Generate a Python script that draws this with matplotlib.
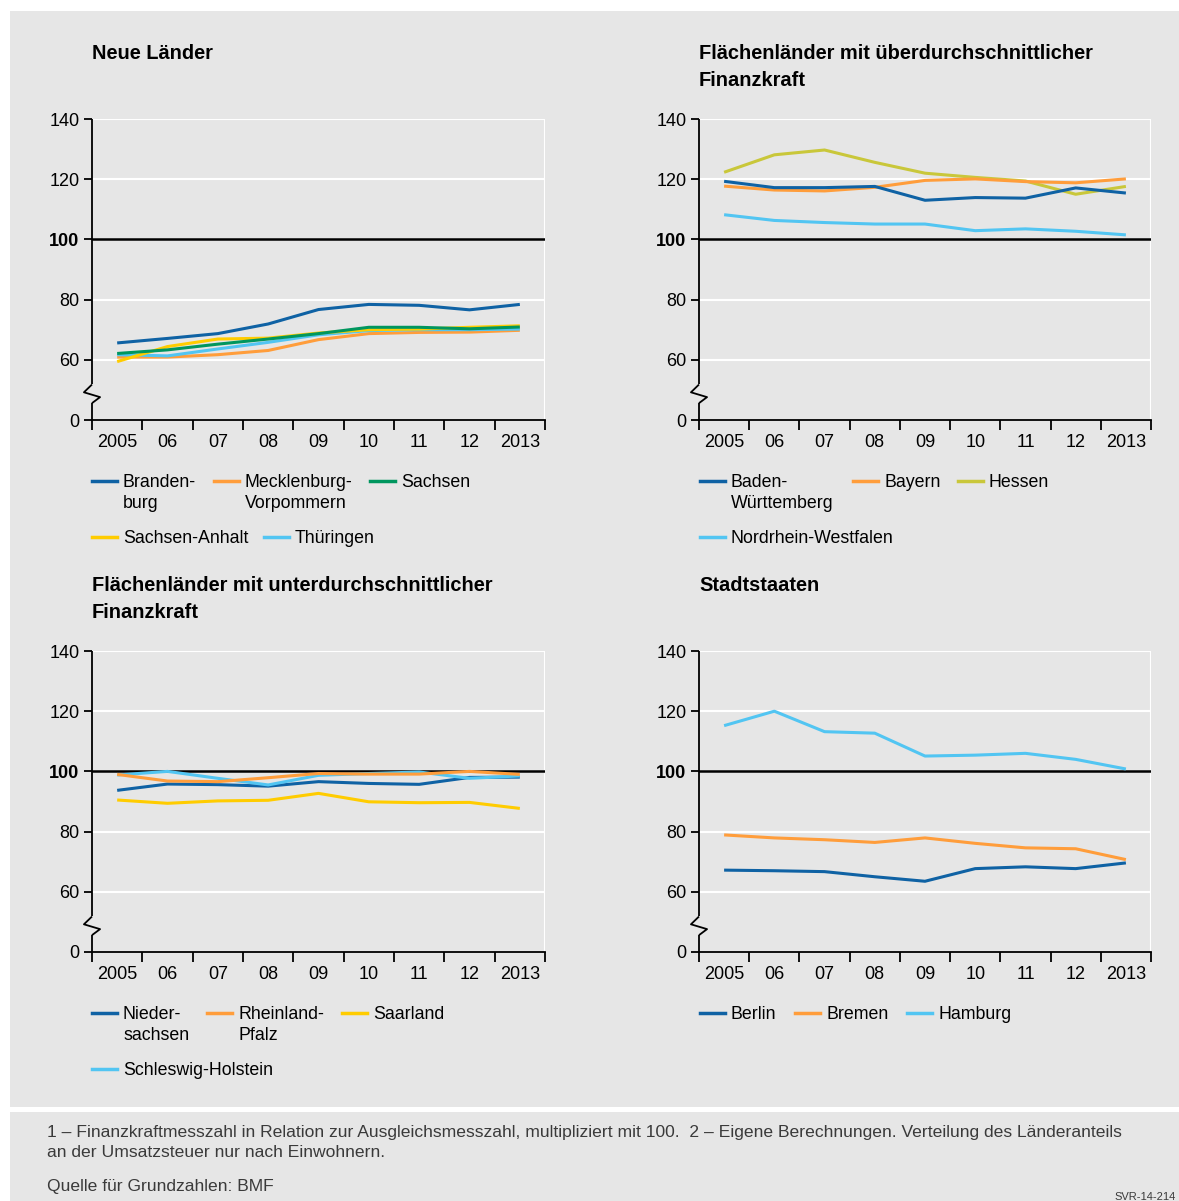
import numpy as np
import matplotlib
matplotlib.use("Agg")
import matplotlib.pyplot as plt
from matplotlib.lines import Line2D
from matplotlib.patches import Rectangle

plt.rcParams['font.family'] = ['Liberation Sans', 'DejaVu Sans']

W, H = 1179, 1201

years = ["2005", "06", "07", "08", "09", "10", "11", "12", "2013"]

# Neue Länder
brandenburg = [65.6, 67.1, 68.7, 71.9, 76.7, 78.4, 78.1, 76.6, 78.4]
meck_vorp = [60.9, 60.9, 61.7, 63.1, 66.7, 68.7, 69.1, 69.2, 69.8]
sachsen = [62.1, 63.3, 65.2, 66.9, 68.7, 70.8, 70.8, 70.3, 70.9]
sachsen_anhalt = [59.4, 64.4, 66.9, 67.2, 68.9, 70.0, 70.2, 70.8, 71.3]
thueringen = [61.7, 61.3, 63.6, 65.8, 68.3, 69.7, 70.0, 70.0, 70.2]

# Flächenländer, überdurchschnittlich
baden_wuertt = [119.3, 117.2, 117.2, 117.6, 113.0, 113.9, 113.7, 117.1, 115.4]
bayern = [117.7, 116.4, 116.1, 117.3, 119.6, 120.1, 119.2, 118.8, 120.1]
hessen = [122.3, 128.1, 129.7, 125.6, 122.0, 120.6, 119.4, 115.0, 117.6]
nrw = [108.2, 106.3, 105.6, 105.1, 105.1, 102.9, 103.5, 102.7, 101.5]

# Flächenländer, unterdurchschnittlich
niedersachsen = [93.7, 95.8, 95.6, 95.1, 96.6, 96.0, 95.7, 98.0, 98.1]
rheinland_pfalz = [99.0, 96.8, 96.6, 97.9, 99.3, 99.1, 99.1, 100.0, 99.0]
saarland = [90.5, 89.4, 90.2, 90.4, 92.7, 89.9, 89.6, 89.7, 87.7]
schleswig_holstein = [98.8, 100.0, 97.7, 95.5, 98.7, 99.3, 99.8, 97.7, 98.5]

# Stadtstaaten
berlin = [67.2, 67.0, 66.7, 65.0, 63.5, 67.7, 68.3, 67.7, 69.6]
bremen = [78.9, 77.9, 77.3, 76.4, 77.9, 76.1, 74.6, 74.3, 70.7]
hamburg = [115.2, 120.0, 113.2, 112.7, 105.1, 105.4, 106.0, 104.0, 100.8]

DBLUE = "#0f62a4"
ORANGE = "#ff9d3b"
GREEN = "#00965e"
YELLOW = "#ffcc00"
LBLUE = "#52c5f2"
OLIVE = "#c9c73a"
BG = "#e6e6e6"

# y axis is broken: "0" drawn at position 40
yticks = [40, 60, 80, 100, 120, 140]
ylabels = ["0", "60", "80", "100", "120", "140"]

fig = plt.figure(figsize=(W / 100, H / 100), dpi=100)
fig.patch.set_facecolor("white")
fig.add_artist(Rectangle((10 / W, 1 - 1107 / H), 1169 / W, 1096 / H,
                         transform=fig.transFigure, facecolor=BG, edgecolor="none", zorder=0))
fig.add_artist(Rectangle((10 / W, 0), 1169 / W, 1 - 1112 / H,
                         transform=fig.transFigure, facecolor=BG, edgecolor="none", zorder=0))


def fx(px):
    return px / W


def fy(py):
    return 1 - py / H


def panel(left, top, right, bottom, title, series, legend):
    ax = fig.add_axes([fx(left), fy(bottom), fx(right - left), (bottom - top) / H])
    ax.set_facecolor(BG)
    x = np.arange(len(years))
    for vals, color in series:
        ax.plot(x, vals, color=color, lw=2.2, solid_capstyle="butt", zorder=3)
    ax.set_xlim(-0.5, len(years) - 0.5)
    ax.set_ylim(40, 140)
    for g in [60, 80, 120, 140]:
        ax.axhline(g, color="white", lw=1.5, zorder=1)
    ax.axhline(100, color="black", lw=1.8, zorder=2)
    ax.axvline(len(years) - 0.5, color="white", lw=1.5, zorder=1)
    for s in ["top", "right", "left"]:
        ax.spines[s].set_visible(False)
    ax.spines["bottom"].set_linewidth(1.3)
    # broken y axis
    k = dict(color="black", lw=1.3, clip_on=False, zorder=4, solid_capstyle="butt")
    ax.plot([-0.5, -0.5], [51.8, 140], **k)
    ax.plot([-0.5, -0.5], [40, 45.6], **k)
    ax.plot([-0.5, -0.66, -0.34, -0.5], [51.8, 49.2, 47.6, 45.6], **k)
    ax.set_yticks(yticks)
    ax.set_yticklabels(ylabels, fontsize=13)
    ax.get_yticklabels()[3].set_fontweight("bold")
    ax.tick_params(axis="y", length=6, width=1.3, pad=3)
    ax.set_xticks(np.arange(len(years) + 1) - 0.5)
    ax.set_xticklabels([])
    ax.tick_params(axis="x", which="major", length=7, width=1.3)
    ax.set_xticks(x, minor=True)
    ax.set_xticklabels(years, minor=True, fontsize=13)
    ax.tick_params(axis="x", which="minor", length=0, pad=10)
    fig.text(fx(left), fy(title[1]), title[0], fontsize=14.4, fontweight="bold",
             va="top", ha="left", linespacing=1.55)
    for (hx, ty, label, color) in legend:
        fig.add_artist(Line2D([fx(hx), fx(hx + 25)], [fy(ty), fy(ty)],
                              color=color, lw=2.5, transform=fig.transFigure))
        fig.text(fx(hx + 31), fy(ty - 7), label, fontsize=12.8, va="top", ha="left",
                 linespacing=1.3)
    return ax


panel(92, 119, 545, 420, ("Neue Länder", 44),
      [(meck_vorp, ORANGE), (thueringen, LBLUE), (sachsen_anhalt, YELLOW),
       (sachsen, GREEN), (brandenburg, DBLUE)],
      [(92, 481, "Branden-\nburg", DBLUE),
       (214, 481, "Mecklenburg-\nVorpommern", ORANGE),
       (370, 481, "Sachsen", GREEN),
       (92, 537, "Sachsen-Anhalt", YELLOW),
       (264, 537, "Thüringen", LBLUE)])

panel(699, 119, 1151, 420,
      ("Flächenländer mit überdurchschnittlicher\nFinanzkraft", 44),
      [(nrw, LBLUE), (hessen, OLIVE), (bayern, ORANGE), (baden_wuertt, DBLUE)],
      [(700, 481, "Baden-\nWürttemberg", DBLUE),
       (853, 481, "Bayern", ORANGE),
       (958, 481, "Hessen", OLIVE),
       (700, 537, "Nordrhein-Westfalen", LBLUE)])

panel(92, 651, 545, 952,
      ("Flächenländer mit unterdurchschnittlicher\nFinanzkraft", 576),
      [(saarland, YELLOW), (niedersachsen, DBLUE), (schleswig_holstein, LBLUE),
       (rheinland_pfalz, ORANGE)],
      [(92, 1013, "Nieder-\nsachsen", DBLUE),
       (207, 1013, "Rheinland-\nPfalz", ORANGE),
       (342, 1013, "Saarland", YELLOW),
       (92, 1069, "Schleswig-Holstein", LBLUE)])

panel(699, 651, 1151, 952, ("Stadtstaaten", 576),
      [(hamburg, LBLUE), (bremen, ORANGE), (berlin, DBLUE)],
      [(700, 1013, "Berlin", DBLUE),
       (795, 1013, "Bremen", ORANGE),
       (907, 1013, "Hamburg", LBLUE)])

fig.text(fx(47), fy(1125), "1 – Finanzkraftmesszahl in Relation zur Ausgleichsmesszahl, multipliziert mit 100.  "
         "2 – Eigene Berechnungen. Verteilung des Länderanteils\nan der Umsatzsteuer nur nach Einwohnern.",
         fontsize=12.6, va="top", ha="left", color="#3a3a3a", linespacing=1.45)
fig.text(fx(47), fy(1179), "Quelle für Grundzahlen: BMF", fontsize=12.6,
         va="top", ha="left", color="#3a3a3a")
fig.text(fx(1114), fy(1192), "SVR-14-214", fontsize=8,
         va="top", ha="left", color="#3a3a3a")

plt.savefig("out.png", dpi=100)
